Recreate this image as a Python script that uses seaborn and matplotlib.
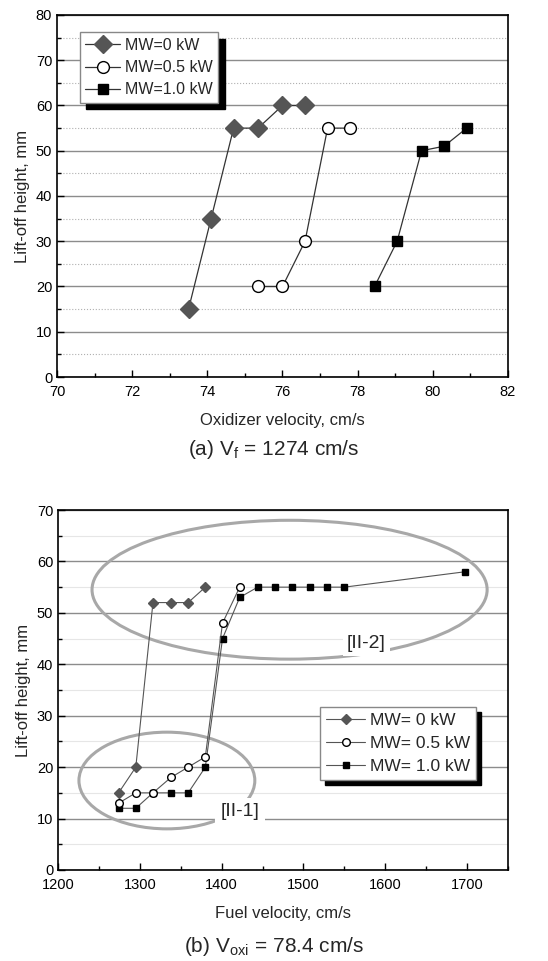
import numpy as np
import pandas as pd
import seaborn as sns
import matplotlib.pyplot as plt
from matplotlib.patches import Ellipse
from matplotlib.ticker import MultipleLocator

# (a) lift-off height vs oxidizer velocity, Vf = 1274 cm/s
a_x0 = [73.5, 74.1, 74.7, 75.35, 76.0, 76.6]
a_y0 = [15, 35, 55, 55, 60, 60]
a_x05 = [75.35, 76.0, 76.6, 77.2, 77.8]
a_y05 = [20, 20, 30, 55, 55]
a_x10 = [78.45, 79.05, 79.7, 80.3, 80.9]
a_y10 = [20, 30, 50, 51, 55]

# (b) lift-off height vs fuel velocity, Voxi = 78.4 cm/s
b_x0 = [1274, 1295, 1316, 1338, 1359, 1380]
b_y0 = [15, 20, 52, 52, 52, 55]
b_x05 = [1274, 1295, 1316, 1338, 1359, 1380, 1401, 1422]
b_y05 = [13, 15, 15, 18, 20, 22, 48, 55]
b_x10 = [1274, 1295, 1316, 1338, 1359, 1380, 1401, 1422, 1444, 1465, 1486, 1508, 1529, 1550, 1698]
b_y10 = [12, 12, 15, 15, 15, 20, 45, 53, 55, 55, 55, 55, 55, 55, 58]

labels_a = ['MW=0 kW', 'MW=0.5 kW', 'MW=1.0 kW']
labels_b = ['MW= 0 kW', 'MW= 0.5 kW', 'MW= 1.0 kW']

sns.set_style('ticks')
plt.rcParams['font.family'] = ['Liberation Sans', 'DejaVu Sans']
plt.rcParams['mathtext.fontset'] = 'custom'
plt.rcParams['mathtext.rm'] = 'Liberation Sans'

fig = plt.figure(figsize=(5.48, 9.61), dpi=100)
ax1 = fig.add_axes([0.104, 0.6077, 0.823, 0.3767])
ax2 = fig.add_axes([0.106, 0.0947, 0.821, 0.3746])

styles = [
    dict(marker='D', markerfacecolor='#555555', markeredgecolor='#555555'),
    dict(marker='o', markerfacecolor='white', markeredgecolor='black'),
    dict(marker='s', markerfacecolor='black', markeredgecolor='black'),
]


def draw(ax, series, labels, sizes, lcolor, lw):
    # draw 1.0 first so the open circles sit on top
    for i in [2, 1, 0]:
        x, y = series[i]
        df = pd.DataFrame({'x': x, 'y': y})
        sns.lineplot(data=df, x='x', y='y', ax=ax, sort=False, estimator=None,
                     color=lcolor, linewidth=lw, markersize=sizes[i],
                     markeredgewidth=1.0, label=labels[i], zorder=5 + (2 - i),
                     **styles[i])


def style_axis(ax, minor_ls, minor_color):
    ax.yaxis.set_major_locator(MultipleLocator(10))
    ax.yaxis.set_minor_locator(MultipleLocator(5))
    ax.tick_params(which='both', direction='in', top=False, right=False,
                   labelsize=10.5, colors='black')
    ax.tick_params(axis='x', which='major', pad=6)
    ax.tick_params(which='major', length=5, width=1)
    ax.tick_params(which='minor', length=3, width=1)
    ax.grid(axis='y', which='major', color='#8c8c8c', linewidth=1, linestyle='-')
    ax.grid(axis='y', which='minor', color=minor_color, linewidth=0.8, linestyle=minor_ls)
    ax.set_axisbelow(True)
    for s in ax.spines.values():
        s.set_visible(True)
        s.set_linewidth(1.2)
        s.set_color('black')
    ax.set_ylabel('Lift-off height, mm', fontsize=12)


def shadow_legend(ax, labels, loc, anchor, hl, fs, off):
    handles, labs = ax.get_legend_handles_labels()
    order = [labs.index(l) for l in labels]
    leg = ax.legend([handles[k] for k in order], labels, loc=loc,
                    bbox_to_anchor=anchor, fontsize=fs, handlelength=hl,
                    fancybox=False, framealpha=1, edgecolor='#888888',
                    borderpad=0.35, labelspacing=0.45, handletextpad=0.3,
                    borderaxespad=0,
                    shadow={'ox': off, 'oy': -off, 'facecolor': 'black',
                            'edgecolor': 'black', 'alpha': 1})
    leg.get_frame().set_linewidth(1)
    leg.set_zorder(20)


# panel (a)
draw(ax1, [(a_x0, a_y0), (a_x05, a_y05), (a_x10, a_y10)], labels_a,
     [9.5, 8.5, 7.5], '#333333', 0.9)
ax1.set_xlim(70, 82)
ax1.set_ylim(0, 80)
ax1.xaxis.set_major_locator(MultipleLocator(2))
ax1.xaxis.set_minor_locator(MultipleLocator(1))
style_axis(ax1, ':', '#b0b0b0')
ax1.set_xlabel('Oxidizer velocity, cm/s', fontsize=12, labelpad=10)
shadow_legend(ax1, labels_a, 'upper left', (0.05, 0.952), 2.2, 11.5, 4.5)

# panel (b)
draw(ax2, [(b_x0, b_y0), (b_x05, b_y05), (b_x10, b_y10)], labels_b,
     [5.5, 5.5, 5], '#555555', 0.8)
ax2.set_xlim(1200, 1750)
ax2.set_ylim(0, 70)
ax2.xaxis.set_major_locator(MultipleLocator(100))
ax2.xaxis.set_minor_locator(MultipleLocator(50))
style_axis(ax2, '-', '#e6e6e6')
ax2.set_xlabel('Fuel velocity, cm/s', fontsize=12, labelpad=10)
shadow_legend(ax2, labels_b, 'upper right', (0.929, 0.453), 2.2, 12.5, 3.5)

ax2.add_patch(Ellipse((1483, 54.5), 483, 27, fill=False, edgecolor='#a8a8a8',
                      linewidth=2.2, zorder=3))
ax2.add_patch(Ellipse((1333, 17.4), 215, 18.8, fill=False, edgecolor='#a8a8a8',
                      linewidth=2.2, zorder=3))
ax2.text(1577, 44, '[II-2]', fontsize=14, ha='center', va='center', zorder=4,
         bbox=dict(facecolor='white', edgecolor='none', pad=3))
ax2.text(1422, 11.3, '[II-1]', fontsize=14, ha='center', va='center', zorder=4,
         bbox=dict(facecolor='white', edgecolor='none', pad=4))

fig.text(0.5, 0.532, r'(a) V$_\mathregular{f}$ = 1274 cm/s', ha='center',
         va='center', fontsize=15)
fig.text(0.5, 0.015, r'(b) V$_\mathregular{oxi}$ = 78.4 cm/s', ha='center',
         va='center', fontsize=15)

fig.savefig('out.png', dpi=100)
